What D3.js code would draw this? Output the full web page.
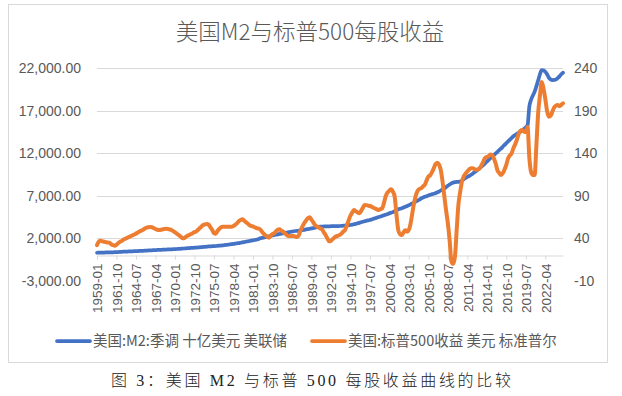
<!DOCTYPE html>
<html>
<head>
<meta charset="utf-8">
<script src="https://cdn.jsdelivr.net/npm/d3@7"></script>
<style>
  html, body { margin: 0; padding: 0; background: #fff; }
  svg { display: block; }
</style>
</head>
<body>
<div id="chart"></div>
<script>
// quarters 1959-01 .. 2024-10
var years = d3.range(1959, 2025);
var months = ["01", "04", "07", "10"];
var quarters = [];
years.forEach(function(y) { months.forEach(function(m) { quarters.push(y + "-" + m); }); });

// 美国:M2:季调 十亿美元 (left axis), one row per year
var m2 = [
  300, 306, 312, 318,   324, 330, 337, 344,   351, 358, 365, 372,   380, 395, 410, 424,
  435, 445, 455, 465,   475, 485, 495, 505,   515, 525, 535, 545,   555, 565, 575, 585,
  600, 615, 624, 635,   645, 655, 665, 675,   685, 695, 705, 715,   725, 741, 755, 770,
  785, 800, 815, 830,   845, 860, 875, 890,   905, 920, 941, 960,   980, 1000, 1020, 1040,
  1055, 1070, 1085, 1094,  1110, 1130, 1150, 1175,  1200, 1225, 1250, 1280,  1310, 1340, 1375, 1412,
  1440, 1480, 1520, 1560,  1600, 1640, 1680, 1718,  1760, 1800, 1845, 1890,  2000, 2040, 2080, 2120,
  2180, 2240, 2290, 2340,  2380, 2420, 2460, 2506,  2550, 2590, 2630, 2670,  2710, 2750, 2790, 2830,
  2860, 2880, 2894, 2920,  2960, 3000, 3040, 3080,  3120, 3160, 3200, 3240,  3300, 3340, 3365, 3380,
  3390, 3400, 3410, 3415,  3420, 3425, 3430, 3435,  3440, 3447, 3460, 3480,  3500, 3520, 3545, 3565,
  3600, 3650, 3700, 3760,  3820, 3880, 3940, 4000,  4060, 4110, 4153, 4220,  4290, 4360, 4430, 4500,
  4570, 4640, 4710, 4780,  4850, 4941, 5010, 5080,  5200, 5300, 5400, 5480,  5540, 5620, 5710, 5800,
  5900, 6000, 6118, 6230,  6340, 6450, 6560, 6706,  6800, 6880, 6960, 7040,  7110, 7180, 7250, 7310,
  7400, 7500, 7620, 7760,  7880, 8020, 8180, 8330,  8470, 8550, 8600, 8630,  8650, 8670, 8800, 8950,
  9100, 9220, 9330, 9447,  9600, 9760, 9920, 10080,  10250, 10424, 10620, 10820,  11020, 11220, 11420, 11620,
  11800, 11980, 12170, 12380,  12560, 12770, 12990, 13200,  13400, 13600, 13800, 14000,  14150, 14280, 14400, 14540,
  14700, 14870, 15050, 15300,  17500, 18300, 18800, 19250,  19900, 20600, 21300, 21800,  21750, 21600, 21300, 20900,
  20700, 20620, 20624, 20700,  20850, 21050, 21300, 21480
];

// 标普500每股收益 (right axis), one row per year
var eps = [
  32, 36, 37, 36.5,   36, 35.5, 35, 34.8,   33, 32, 31.3, 32.5,   34.5, 36, 37, 38.5,
  39.5, 40.5, 41.5, 42.5,   43.5, 44.5, 45.5, 46.8,   48, 49, 50, 51.5,   52.5, 53, 53.2, 53,
  52, 51, 50, 49.8,   50, 50.5, 51, 51.3,   51, 50.5, 49.8, 48.5,   47, 45.5, 44, 42.5,
  40.5, 40, 41.5, 43,   43.9, 45, 46, 47.3,   48, 50, 52, 54,   55.6, 56.3, 56.8, 56,
  53, 50, 46, 45.5,   48.5, 51, 53, 53.6,   53.6, 53.6, 53.6, 53.6,   53.6, 54.5, 56, 57.6,
  60, 61.5, 62.3, 61,   59, 57.5, 55.6, 54.5,   54, 53, 52, 51.5,   50.6, 48, 45.5, 43.5,
  42, 40.7, 43, 45,   45.9, 48, 50, 50.6,   49, 47.8, 46, 44,   42.7, 42.7, 42.7, 42.7,
  42, 41.5, 44, 50,   54, 58, 61, 63.5,   64.7, 62, 59, 55.6,   54, 53, 51.5, 50.6,
  47, 44, 40, 36.5,   37, 39, 41, 42.3,   43, 44, 45.5, 48,   49.8, 55, 61, 66.5,
  70, 73.3, 72, 70.5,   69.4, 72, 75.5, 79.2,   79, 78.5, 78, 77.2,   76, 75, 74, 73.3,
  74.5, 75.3, 82, 90,   94, 96, 97.6, 95,   89, 68, 50, 45,   43.9, 47, 49.5, 47.8,
  50, 57.6, 70, 82,   91, 96, 98, 99,   101, 103, 108, 112.5,   114, 117.5, 122, 127,
  128.9, 127, 120.4, 107,   90, 73, 58, 38,   13, 10, 18, 50,   80, 95, 107, 113,
  116, 118.5, 121, 122.4,   122.4, 121.5, 120.6, 121,   122.4, 126, 130, 134.5,   135.8, 136.5, 138.5, 138,
  134, 128, 120, 117,   114.5, 116.5, 121, 126.5,   134, 137.5, 140, 146,   150.5, 156, 163, 166.5,
  167.4, 165.5, 165, 171,   135, 118, 114.5, 114.5,   150, 188, 208, 224,   216, 204, 190, 183,
  184, 189, 194, 196,   196.8, 195.5, 197, 198.8
];

var leftTicks = [-3000, 2000, 7000, 12000, 17000, 22000];
var rightTicks = [-10, 40, 90, 140, 190, 240];
var seriesNames = ["美国:M2:季调 十亿美元 美联储", "美国:标普500收益 美元 标准普尔"];
var colors = ["#4472c4", "#ed7d31"];

var width = 622, height = 396;
var plotLeft = 97, plotRight = 563, plotTop = 68.3, plotBottom = 280.8;
var textColor = "#595959", gridColor = "#d9d9d9";

var svg = d3.select("#chart").append("svg")
    .attr("width", width)
    .attr("height", height);

svg.append("rect").attr("width", width).attr("height", height).attr("fill", "#fff");

// chart frame
svg.append("rect")
    .attr("x", 8.5).attr("y", 4.5)
    .attr("width", 599).attr("height", 358)
    .attr("fill", "none")
    .attr("stroke", gridColor);

// title
svg.append("text")
    .attr("x", 310).attr("y", 40)
    .attr("text-anchor", "middle")
    .style("font-family", "'Noto Sans CJK SC', sans-serif")
    .style("font-size", "22.5px")
    .style("font-weight", 300)
    .attr("fill", textColor)
    .text("美国M2与标普500每股收益");

var x = d3.scalePoint().domain(quarters).range([plotLeft, plotRight]);
var yL = d3.scaleLinear().domain([-3000, 22000]).range([plotBottom, plotTop]);
var yR = d3.scaleLinear().domain([-10, 240]).range([plotBottom, plotTop]);

var fmt = d3.formatLocale({decimal: ".", thousands: ",", grouping: [3], currency: ["", ""], minus: "-"});

// gridlines
svg.append("g").selectAll("line")
    .data(leftTicks.filter(function(d) { return d > -3000; }))
    .enter().append("line")
    .attr("x1", plotLeft).attr("x2", plotRight)
    .attr("y1", function(d) { return Math.round(yL(d)) + 0.5; })
    .attr("y2", function(d) { return Math.round(yL(d)) + 0.5; })
    .attr("stroke", gridColor)
    .attr("stroke-width", 1.2);

// left axis
var gL = svg.append("g")
    .attr("transform", "translate(" + plotLeft + ",0)")
    .call(d3.axisLeft(yL).tickValues(leftTicks).tickSize(0).tickPadding(16).tickFormat(fmt.format(",.2f")));
gL.select(".domain").remove();

// right axis
var gR = svg.append("g")
    .attr("transform", "translate(" + plotRight + ",0)")
    .call(d3.axisRight(yR).tickValues(rightTicks).tickSize(0).tickPadding(11).tickFormat(fmt.format("d")));
gR.select(".domain").remove();

[gL, gR].forEach(function(g) {
    g.selectAll("text")
        .attr("fill", textColor)
        .style("font-family", "'Liberation Sans', Arial, sans-serif")
        .style("font-size", "14px");
});

// category axis at zero
var gX = svg.append("g")
    .attr("transform", "translate(0," + (Math.round(yL(0)) + 0.5) + ")")
    .call(d3.axisBottom(x)
        .tickValues(quarters.filter(function(d, i) { return i % 11 === 0; }))
        .tickSizeInner(4).tickSizeOuter(0).tickPadding(0));
gX.select(".domain").attr("stroke", gridColor).attr("stroke-width", 1.2);
gX.selectAll(".tick line").attr("stroke", gridColor);
gX.selectAll("text")
    .attr("fill", textColor)
    .style("font-family", "'Liberation Sans', Arial, sans-serif")
    .style("font-size", "13.5px")
    .attr("text-anchor", "end")
    .attr("transform", "rotate(-90)")
    .attr("x", -8)
    .attr("y", 0)
    .attr("dy", "0.36em");

// series
var lineL = d3.line()
    .x(function(d, i) { return x(quarters[i]); })
    .y(function(d) { return yL(d); })
    .curve(d3.curveMonotoneX);
var lineR = d3.line()
    .x(function(d, i) { return x(quarters[i]); })
    .y(function(d) { return yR(d); })
    .curve(d3.curveMonotoneX);

svg.append("path")
    .datum(m2)
    .attr("d", lineL)
    .attr("fill", "none")
    .attr("stroke", colors[0])
    .attr("stroke-width", 3.75)
    .attr("stroke-linejoin", "round")
    .attr("stroke-linecap", "round");

svg.append("path")
    .datum(eps)
    .attr("d", lineR)
    .attr("fill", "none")
    .attr("stroke", colors[1])
    .attr("stroke-width", 4)
    .attr("stroke-linejoin", "round")
    .attr("stroke-linecap", "round");

// legend
var legendX = [57, 312];
var legend = svg.append("g").selectAll("g")
    .data(seriesNames)
    .enter().append("g")
    .attr("transform", function(d, i) { return "translate(" + legendX[i] + ",341)"; });
legend.append("line")
    .attr("x1", 0).attr("x2", 33)
    .attr("stroke", function(d, i) { return colors[i]; })
    .attr("stroke-width", 3.75)
    .attr("stroke-linecap", "round");
legend.append("text")
    .attr("x", 36).attr("y", 0).attr("dy", "0.36em")
    .attr("fill", textColor)
    .style("font-family", "'Noto Sans CJK SC', sans-serif")
    .style("font-size", "14.5px")
    .text(function(d) { return d; });

// caption under the chart
svg.append("text")
    .attr("x", 311).attr("y", 386)
    .attr("text-anchor", "middle")
    .attr("textLength", 400)
    .attr("lengthAdjust", "spacing")
    .attr("fill", "#222")
    .style("font-family", "'Liberation Serif', 'Noto Sans CJK SC', serif")
    .style("font-size", "16px")
    .style("font-weight", 300)
    .text("图 3：美国 M2 与标普 500 每股收益曲线的比较");
</script>
</body>
</html>
